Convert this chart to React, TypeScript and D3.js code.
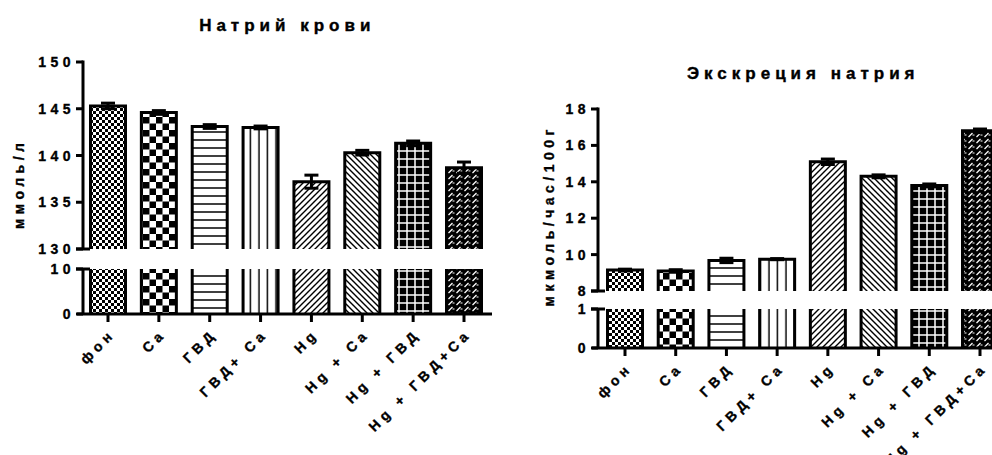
import React from 'react';
import * as d3 from 'd3';

const categories = ['фон', 'Ca', 'ГВД', 'ГВД+ Ca', 'Hg', 'Hg + Ca', 'Hg + ГВД', 'Hg + ГВД+Ca'];

// Натрий крови, ммоль/л
const bloodSodium = [145.3, 144.6, 143.1, 143.0, 137.2, 140.3, 141.3, 138.7];
const bloodSodiumErr = [0.3, 0.2, 0.2, 0.15, 0.7, 0.25, 0.25, 0.6];
const bloodTopTicks = [130, 135, 140, 145, 150];
const bloodBottomTicks = [0, 10];

// Экскреция натрия, мкмоль/час/100г
const excretion = [9.15, 9.1, 9.68, 9.75, 15.1, 14.3, 13.8, 16.8];
const excretionErr = [0.05, 0.07, 0.12, 0.03, 0.15, 0.08, 0.08, 0.1];
const excretionTopTicks = [8, 10, 12, 14, 16, 18];
const excretionBottomTicks = [0, 1];

const patternIds = ['pFine', 'pChecker', 'pHoriz', 'pVert', 'pDiagR', 'pDiagL', 'pGrid', 'pZig'];

const FONT = '"Liberation Sans", Arial, sans-serif';
const SP = 4.5; // letter spacing

const Patterns = () => (
  <defs>
    <pattern id="pFine" width={6} height={6} patternUnits="userSpaceOnUse">
      <rect width={6} height={6} fill="#fff" />
      <rect width={3} height={3} fill="#000" />
      <rect x={3} y={3} width={3} height={3} fill="#000" />
    </pattern>
    <pattern id="pChecker" width={13} height={13} patternUnits="userSpaceOnUse">
      <rect width={13} height={13} fill="#fff" />
      <rect width={6.5} height={6.5} fill="#000" />
      <rect x={6.5} y={6.5} width={6.5} height={6.5} fill="#000" />
    </pattern>
    <pattern id="pHoriz" width={8} height={8} patternUnits="userSpaceOnUse">
      <rect width={8} height={8} fill="#fff" />
      <line x1={0} x2={8} y1={4} y2={4} stroke="#000" strokeWidth={1.5} />
    </pattern>
    <pattern id="pVert" width={8.5} height={8} patternUnits="userSpaceOnUse">
      <rect width={8.5} height={8} fill="#fff" />
      <line x1={4} x2={4} y1={0} y2={8} stroke="#000" strokeWidth={1.5} />
    </pattern>
    <pattern id="pDiagR" width={6} height={6} patternUnits="userSpaceOnUse">
      <rect width={6} height={6} fill="#fff" />
      <path d="M-1,7 L7,-1 M-1,1 L1,-1 M5,7 L7,5" stroke="#000" strokeWidth={1.4} />
    </pattern>
    <pattern id="pDiagL" width={6} height={6} patternUnits="userSpaceOnUse">
      <rect width={6} height={6} fill="#fff" />
      <path d="M-1,-1 L7,7 M5,-1 L7,1 M-1,5 L1,7" stroke="#000" strokeWidth={1.4} />
    </pattern>
    <pattern id="pGrid" width={8} height={8} patternUnits="userSpaceOnUse">
      <rect width={8} height={8} fill="#000" />
      <line x1={0} x2={8} y1={7} y2={7} stroke="#fff" strokeWidth={1.5} />
      <line x1={7} x2={7} y1={0} y2={8} stroke="#fff" strokeWidth={1.5} />
    </pattern>
    <pattern id="pZig" width={8} height={6} patternUnits="userSpaceOnUse">
      <rect width={8} height={6} fill="#000" />
      <path d="M0.5,5 L4.5,1" stroke="#fff" strokeWidth={1.3} />
      <path d="M4.5,3 L6.5,3" stroke="#fff" strokeWidth={1} />
    </pattern>
  </defs>
);

type PanelProps = {
  title: string;
  titleX: number;
  titleY: number;
  yLabel: string;
  yLabelX: number;
  yLabelY: number;
  values: number[];
  errs: number[];
  centers: [number, number];
  topTicks: number[];
  topRange: [number, number];
  bottomTicks: number[];
  bottomRange: [number, number];
  axisX: number;
  xAxisEnd: number;
  barW: number;
};

const Panel = (p: PanelProps) => {
  const x = d3.scalePoint<string>().domain(categories).range(p.centers);
  const yTop = d3
    .scaleLinear()
    .domain(d3.extent(p.topTicks) as [number, number])
    .range(p.topRange);
  const yBot = d3
    .scaleLinear()
    .domain(d3.extent(p.bottomTicks) as [number, number])
    .range(p.bottomRange);
  const yBreakTop = yTop(yTop.domain()[0]);
  const yBreakBot = yBot(yBot.domain()[1]);
  const y0 = yBot(0);
  const hw = p.barW / 2;

  return (
    <g fontFamily={FONT} fontWeight="bold" fill="#000" stroke="none">
      <text
        x={p.titleX + SP / 2}
        y={p.titleY}
        textAnchor="middle"
        fontSize={17}
        letterSpacing={5}
        stroke="#000"
        strokeWidth={0.4}
      >
        {p.title}
      </text>
      <text
        transform={`translate(${p.yLabelX},${p.yLabelY}) rotate(-90)`}
        x={SP / 2}
        textAnchor="middle"
        fontSize={14}
        letterSpacing={SP}
        stroke="#000"
        strokeWidth={0.35}
      >
        {p.yLabel}
      </text>

      {/* bars */}
      {categories.map((c, i) => {
        const cx = x(c)!;
        const v = p.values[i];
        const yv = yTop(v);
        const e = p.errs[i];
        return (
          <g key={c}>
            <rect x={cx - hw} y={yv} width={p.barW} height={yBreakTop - yv} fill={`url(#${patternIds[i]})`} />
            <path
              d={`M${cx - hw},${yBreakTop} L${cx - hw},${yv} L${cx + hw},${yv} L${cx + hw},${yBreakTop}`}
              fill="none"
              stroke="#000"
              strokeWidth={3}
            />
            <rect x={cx - hw} y={yBreakBot} width={p.barW} height={y0 - yBreakBot} fill={`url(#${patternIds[i]})`} />
            <path
              d={`M${cx - hw},${yBreakBot} L${cx - hw},${y0} M${cx + hw},${y0} L${cx + hw},${yBreakBot}`}
              fill="none"
              stroke="#000"
              strokeWidth={3}
            />
            {/* error bar */}
            <g stroke="#000" strokeWidth={3}>
              <line x1={cx} x2={cx} y1={yTop(v + e)} y2={yTop(v - e)} />
              <line x1={cx - 7} x2={cx + 7} y1={yTop(v + e)} y2={yTop(v + e)} />
              <line x1={cx - 7} x2={cx + 7} y1={yTop(v - e)} y2={yTop(v - e)} />
            </g>
          </g>
        );
      })}

      {/* y axis, two segments with break marks */}
      <g stroke="#000" strokeWidth={3}>
        <line x1={p.axisX} x2={p.axisX} y1={yTop(yTop.domain()[1]) - 1.5} y2={yBreakTop} />
        <line x1={p.axisX} x2={p.axisX} y1={yBreakBot} y2={y0} />
        <line x1={p.axisX - 7} x2={p.axisX + 7} y1={yBreakTop} y2={yBreakTop} />
        <line x1={p.axisX - 7} x2={p.axisX + 7} y1={yBreakBot} y2={yBreakBot} />
        {p.topTicks.map((t) => (
          <line key={'tt' + t} x1={p.axisX - 7} x2={p.axisX} y1={yTop(t)} y2={yTop(t)} />
        ))}
        {p.bottomTicks.map((t) => (
          <line key={'bt' + t} x1={p.axisX - 7} x2={p.axisX} y1={yBot(t)} y2={yBot(t)} />
        ))}
      </g>
      <g fontSize={14} letterSpacing={SP} textAnchor="end" stroke="#000" strokeWidth={0.35}>
        {p.topTicks.map((t) => (
          <text key={'tl' + t} x={p.axisX - 8} y={yTop(t)} dy="0.36em">
            {t}
          </text>
        ))}
        {p.bottomTicks.map((t) => (
          <text key={'bl' + t} x={p.axisX - 8} y={yBot(t)} dy="0.36em">
            {t}
          </text>
        ))}
      </g>

      {/* x axis */}
      <g stroke="#000" strokeWidth={3}>
        <line x1={p.axisX - 6} x2={p.xAxisEnd} y1={y0} y2={y0} />
        {categories.map((c) => (
          <line key={'xt' + c} x1={x(c)!} x2={x(c)!} y1={y0} y2={y0 + 8} />
        ))}
      </g>
      <g fontSize={14} letterSpacing={SP} textAnchor="end" stroke="#000" strokeWidth={0.35}>
        {categories.map((c) => (
          <text key={'xl' + c} transform={`translate(${x(c)! + 5},${y0 + 24}) rotate(-45)`} x={SP}>
            {c}
          </text>
        ))}
      </g>
    </g>
  );
};

export default function App() {
  return (
    <svg width={992} height={455} style={{ position: 'absolute', left: 0, top: 0, background: '#fff' }}>
      <Patterns />
      <Panel
        title="Натрий крови"
        titleX={285}
        titleY={31}
        yLabel="ммоль/л"
        yLabelX={24}
        yLabelY={186}
        values={bloodSodium}
        errs={bloodSodiumErr}
        centers={[108, 464]}
        topTicks={bloodTopTicks}
        topRange={[249, 62]}
        bottomTicks={bloodBottomTicks}
        bottomRange={[314, 269]}
        axisX={83}
        xAxisEnd={492}
        barW={35}
      />
      <Panel
        title="Экскреция натрия"
        titleX={801}
        titleY={79}
        yLabel="мкмоль/час/100г"
        yLabelX={554}
        yLabelY={218}
        values={excretion}
        errs={excretionErr}
        centers={[625, 980]}
        topTicks={excretionTopTicks}
        topRange={[291, 109]}
        bottomTicks={excretionBottomTicks}
        bottomRange={[348, 309]}
        axisX={598}
        xAxisEnd={1000}
        barW={35}
      />
    </svg>
  );
}
